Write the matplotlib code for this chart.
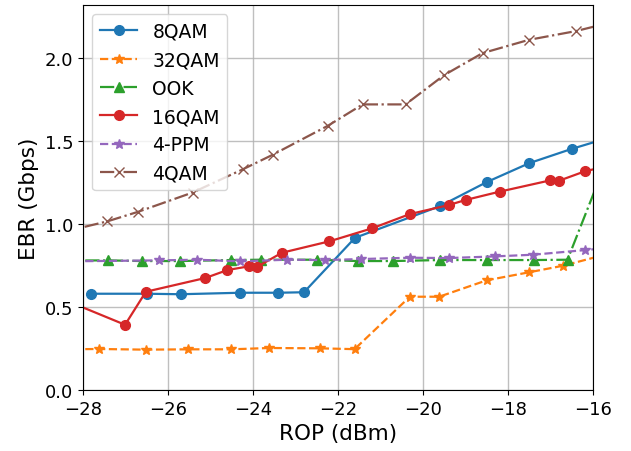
import matplotlib
matplotlib.use("Agg")
import matplotlib.pyplot as plt


# ROP (dBm) and EBR (Gbps), one pair of lists per format
rop_8qam = [-27.81, -26.5, -25.7, -24.3, -23.4, -22.8, -21.6, -19.6, -18.5, -17.5, -16.5, -15.5]
ebr_8qam = [0.58, 0.58, 0.577, 0.586, 0.586, 0.589, 0.917, 1.108, 1.253, 1.367, 1.453, 1.53]

rop_32qam = [-28.5, -27.62, -26.52, -25.52, -24.52, -23.62, -22.42, -21.61, -20.31, -19.62, -18.5, -17.51, -16.7, -15.5]
ebr_32qam = [0.245, 0.247, 0.243, 0.245, 0.245, 0.253, 0.251, 0.246, 0.562, 0.562, 0.661, 0.709, 0.749, 0.83]

rop_ook = [-28.5, -27.4, -26.62, -25.72, -24.52, -23.81, -22.5, -21.54, -20.71, -19.6, -18.5, -17.4, -16.6, -15.5]
ebr_ook = [0.78, 0.781, 0.777, 0.777, 0.783, 0.785, 0.785, 0.777, 0.777, 0.783, 0.783, 0.783, 0.785, 1.5]

rop_16qam = [-28.5, -27.01, -26.52, -25.12, -24.6, -24.1, -23.91, -23.32, -22.2, -21.2, -20.31, -19.4, -19.0,
             -18.2, -17.01, -16.8, -16.2, -15.5]
ebr_16qam = [0.55, 0.393, 0.592, 0.675, 0.723, 0.745, 0.741, 0.827, 0.896, 0.974, 1.06, 1.114, 1.145,
             1.195, 1.263, 1.261, 1.317, 1.36]

rop_4ppm = [-28.5, -26.21, -25.31, -24.31, -23.21, -22.31, -21.46, -20.31, -19.4, -18.31, -17.42, -16.19, -15.5]
ebr_4ppm = [0.775, 0.781, 0.785, 0.775, 0.785, 0.783, 0.789, 0.797, 0.795, 0.805, 0.815, 0.843, 0.86]

rop_4qam = [-28.5, -27.43, -26.7, -25.42, -24.23, -23.54, -22.24, -21.42, -20.41, -19.5, -18.6, -17.51, -16.4, -15.5]
ebr_4qam = [0.95, 1.016, 1.074, 1.19, 1.331, 1.417, 1.592, 1.721, 1.721, 1.898, 2.03, 2.11, 2.163, 2.22]


fig = plt.figure(figsize=(6.31, 4.52), dpi=100)
ax = fig.add_axes([0.1315, 0.135, 0.8083, 0.8517])

ms = 7
lw = 1.6
ax.plot(rop_8qam, ebr_8qam, "-", marker="o", color="C0", ms=ms, lw=lw, label="8QAM")
ax.plot(rop_32qam, ebr_32qam, "--", marker="*", color="C1", ms=ms, lw=lw, label="32QAM")
ax.plot(rop_ook, ebr_ook, "-.", marker="^", color="C2", ms=ms, lw=lw, label="OOK")
ax.plot(rop_16qam, ebr_16qam, "-", marker="o", color="C3", ms=ms, lw=lw, label="16QAM")
ax.plot(rop_4ppm, ebr_4ppm, "--", marker="*", color="C4", ms=ms, lw=lw, label="4-PPM")
ax.plot(rop_4qam, ebr_4qam, "-.", marker="x", color="C5", ms=ms, lw=lw, label="4QAM")

ax.set_xlim(-28, -16)
ax.set_ylim(0, 2.32)
ax.set_xticks([-28, -26, -24, -22, -20, -18, -16])
ax.set_yticks([0.0, 0.5, 1.0, 1.5, 2.0])
ax.tick_params(labelsize=13)
ax.grid(True, color="#b0b0b0", lw=1.0, alpha=0.8)

ax.set_xlabel("ROP (dBm)", fontsize=15.5, labelpad=4)
ax.set_ylabel("EBR (Gbps)", fontsize=15.5)

ax.legend(loc="upper left", fontsize=13.5, handlelength=2.0)

fig.savefig("out.png", dpi=100)
